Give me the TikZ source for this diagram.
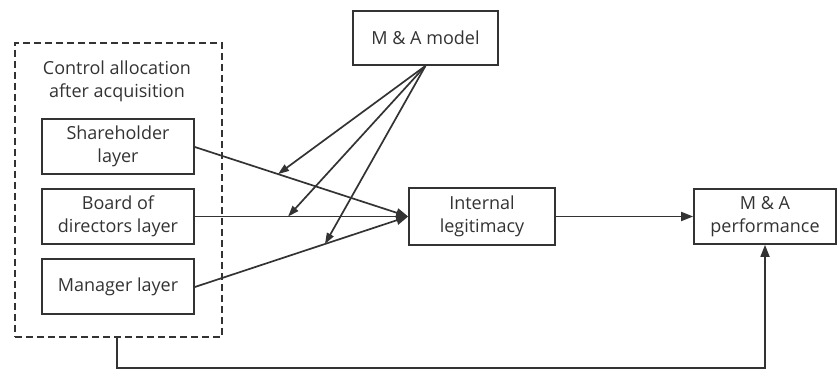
\documentclass[tikz,border=0pt]{standalone}
\usepackage{fontspec}
\setmainfont{Open Sans}
\usetikzlibrary{arrows.meta,calc}
\definecolor{ink}{HTML}{333333}
\begin{document}
\begin{tikzpicture}[x=1pt,y=-1pt,
  every node/.style={text=ink,font=\fontsize{18}{23}\selectfont,align=center,inner sep=0pt},
  boxnode/.style={draw=ink,line width=1.7pt,minimum width=#1},
  boxnode/.default=152,
  conn/.style={draw=ink,line width=1.7pt},
  arr/.style={conn,-{Triangle[length=12pt,width=9pt]}},
  marr/.style={conn,-{Triangle[length=11pt,width=7.5pt]}}]
\useasboundingbox (0,0) rectangle (837,374);
\node[draw=ink,dash pattern=on 7pt off 4pt,line width=1.7pt,minimum width=207,minimum height=294] (outer) at (118.5,190) {};
\node (title) at (117,81) {Control allocation\\after acquisition};
\node[boxnode,minimum height=55] (sh) at (118,146.5) {Shareholder\\layer};
\node[boxnode,minimum height=55] (bd) at (118,216.5) {Board of\\directors layer};
\node[boxnode,minimum height=55] (mg) at (118,286.5) {Manager layer};
\node[boxnode=145,minimum height=54] (model) at (425.5,38) {M \& A model};
\node[boxnode=146,minimum height=57] (il) at (482,216.5) {Internal\\legitimacy};
\node[boxnode=142,minimum height=55] (perf) at (765,216.5) {M \& A\\performance};
\coordinate (ilin) at (il.west);
\draw[arr] (sh.east |- 0,147) -- (ilin);
\draw[arr] (bd.east) -- (ilin);
\draw[arr] (mg.east |- 0,287) -- (ilin);
\coordinate (t1) at ($(sh.east |- 0,147)!0.39!(ilin)$);
\coordinate (t2) at ($(bd.east)!0.437!(ilin)$);
\coordinate (t3) at ($(mg.east |- 0,287)!0.61!(ilin)$);
\draw[marr] (model.south) -- (t1);
\draw[marr] (model.south) -- (t2);
\draw[marr] (model.south) -- (t3);
\draw[arr] (il.east) -- (perf.west);
\coordinate (bend) at (117,368);
\draw[arr] (outer.south -| bend) -- (bend) -| (perf.south);
\end{tikzpicture}
\end{document}
